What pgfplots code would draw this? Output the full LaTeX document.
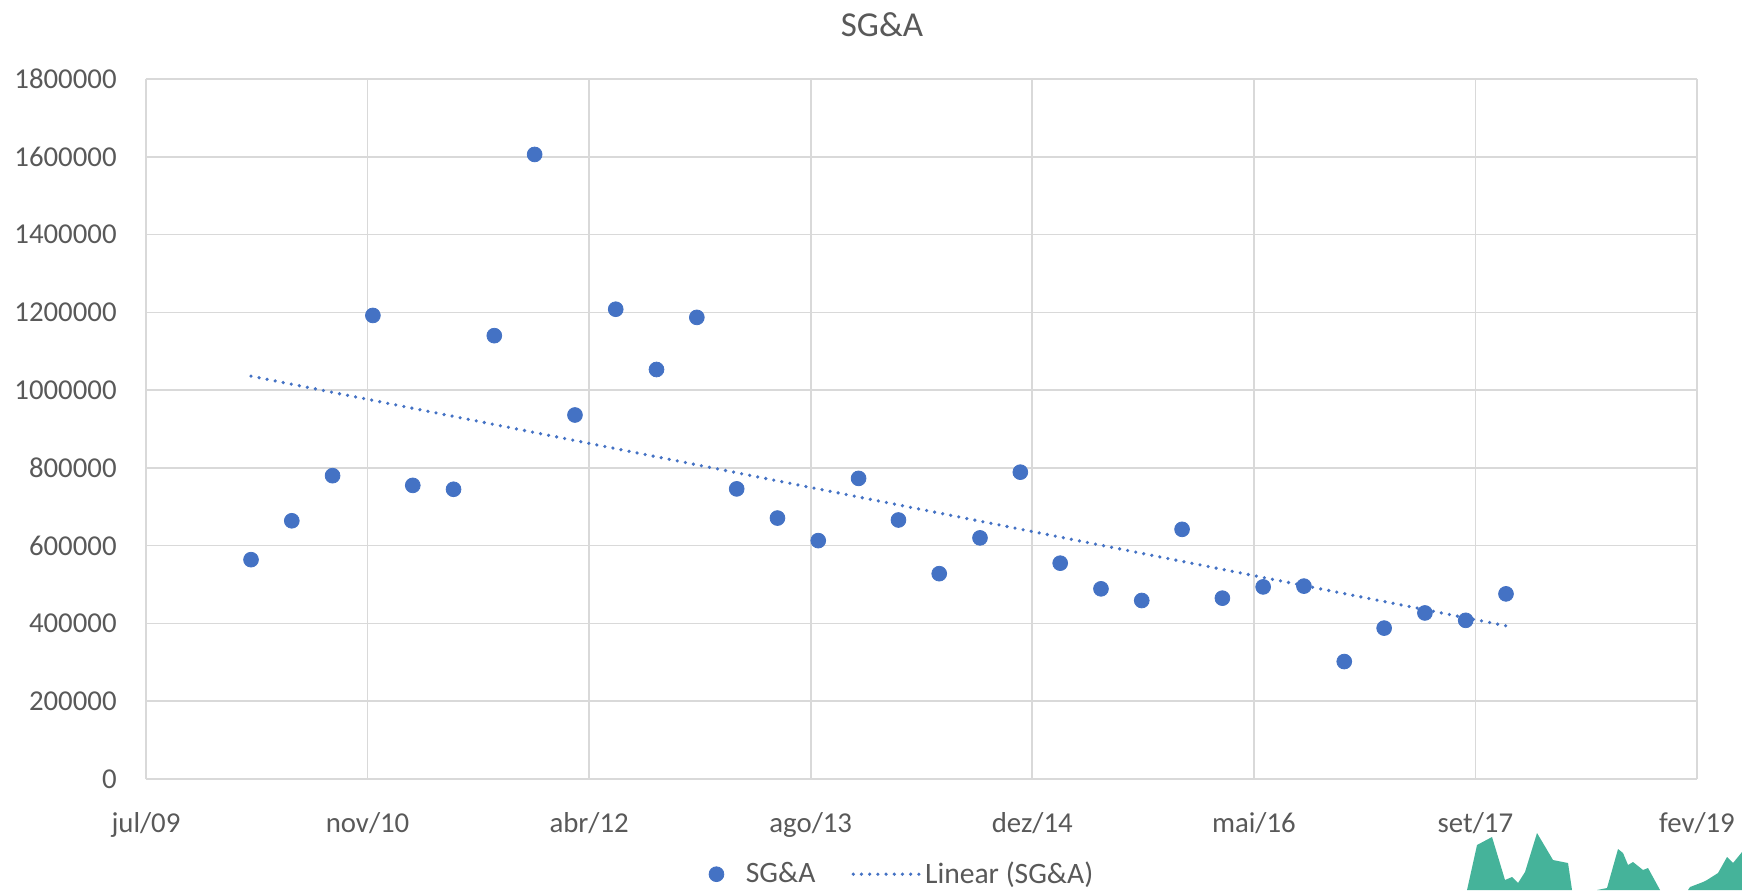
\documentclass[border=0pt]{standalone}
\usepackage{pgfplots}
\pgfplotsset{compat=1.18}
\usepackage{fontspec}
\setmainfont{Carlito}
\definecolor{txtgray}{HTML}{595959}
\definecolor{gridgray}{HTML}{D9D9D9}
\definecolor{ptblue}{HTML}{4472C4}
\definecolor{wmteal}{HTML}{45B39A}
\pgfplotsset{
  trendlegend/.style={legend image code/.code={\draw[##1] (0pt,0pt) -- (33pt,0pt);}},
  dotlegend/.style={legend image code/.code={\path[draw=none,fill=none] (-4pt,-1pt) rectangle (12.7pt,1pt);\draw[##1] plot coordinates {(0pt,0pt)};}}
}
\begin{document}
\begin{tikzpicture}
\path[use as bounding box] (0,0) rectangle (871pt,445pt);
% decorative shape at bottom right (pixel coordinates)
\begin{axis}[at={(0pt,0pt)},anchor=south west,scale only axis,width=871pt,height=445pt,
  xmin=0,xmax=1742,ymin=0,ymax=890,y dir=reverse,hide axis,scaled ticks=false]
\addplot[draw=none,fill=wmteal] coordinates {(1467,890) (1477,845) (1492,837) (1505,880) (1512,877) (1518,883) (1525,872) (1537,833) (1553,860) (1568,863) (1572,890)} -- cycle;
\addplot[draw=none,fill=wmteal] coordinates {(1597,890) (1607,888) (1618,849) (1623,853) (1628,865) (1633,862) (1643,870) (1648,868) (1660,890)} -- cycle;
\addplot[draw=none,fill=wmteal] coordinates {(1688,890) (1690,887) (1703,882) (1707,880) (1718,873) (1727,857) (1733,863) (1742,852) (1742,890)} -- cycle;
\end{axis}
\begin{axis}[at={(73pt,55.5pt)},anchor=south west,scale only axis,
  width=775.5pt,height=350pt,
  xmin=40000,xmax=43500,ymin=0,ymax=1800000,
  scaled ticks=false,
  xtick={40000,40500,41000,41500,42000,42500,43000,43500},
  xticklabels={jul/09,nov/10,abr/12,ago/13,dez/14,mai/16,set/17,fev/19},
  ytick={0,200000,400000,600000,800000,1000000,1200000,1400000,1600000,1800000},
  yticklabels={0,200000,400000,600000,800000,1000000,1200000,1400000,1600000,1800000},
  major tick length=0pt,
  grid=major,
  grid style={gridgray,line width=0.8pt},
  axis line style={gridgray,line width=0.8pt},
  axis x line*=bottom, axis y line*=left,
  tick label style={font=\fontsize{14.4}{17}\selectfont,text=txtgray},
  yticklabel style={anchor=east,inner sep=0pt,xshift=-14.5pt},
  xticklabel style={anchor=north,inner sep=0pt,yshift=-16.5pt},
  legend style={at={(0.488,-0.136)},anchor=center,draw=none,fill=none,
    font=\fontsize{14.8}{17}\selectfont,text=txtgray,legend columns=2,
    /tikz/every even column/.append style={column sep=16pt}},
  clip=false
]
\addplot[only marks,mark=*,mark size=3.7pt,mark options={draw=ptblue,fill=ptblue},dotlegend] coordinates {
(40237,564000) (40329,664000) (40421,780000) (40512,1192000)
(40602,755000) (40694,745000) (40786,1140000) (40877,1606000)
(40968,936000) (41060,1208000) (41152,1053000) (41243,1187000)
(41333,746000) (41425,671000) (41517,613000) (41608,773000)
(41698,666000) (41790,528000) (41882,620000) (41973,789000)
(42063,555000) (42155,489000) (42247,459000) (42338,642000)
(42429,465000) (42521,494000) (42613,496000) (42704,302000)
(42794,388000) (42886,427000) (42978,408000) (43069,476000)};
\addlegendentry{SG\&A}
\addplot[ptblue,line width=1.8pt,line cap=round,dash pattern=on 0pt off 4.1pt,trendlegend] coordinates {
(40237,1036000) (43069,394000)};
\addlegendentry{Linear (SG\&A)}
\end{axis}
\node[font=\fontsize{17.5}{20}\selectfont,text=txtgray] at (441pt,432.5pt) {SG\&A};
\end{tikzpicture}
\end{document}
